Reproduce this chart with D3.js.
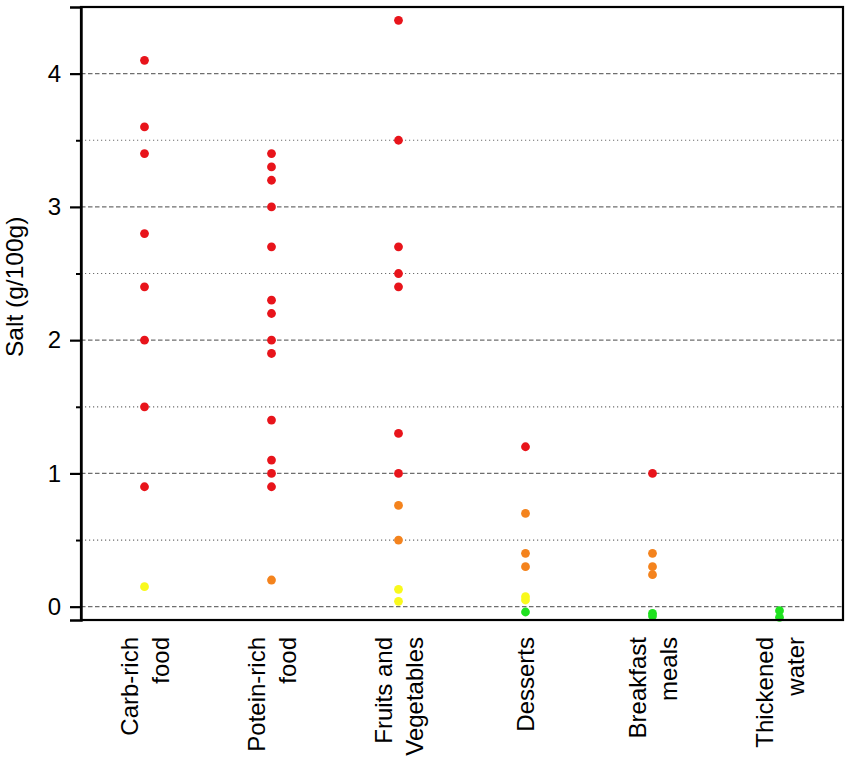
<!DOCTYPE html>
<html>
<head>
<meta charset="utf-8">
<script src="https://cdn.jsdelivr.net/npm/d3@7"></script>
<style>
  body { margin: 0; background: #fff; }
  svg { display: block; font-family: "Liberation Sans", Arial, sans-serif; }
</style>
</head>
<body>
<div id="chart"></div>
<script>
// categories, each label split in the lines it is drawn on
const categories = ['Carb-rich food', 'Potein-rich food', 'Fruits and Vegetables', 'Desserts', 'Breakfast meals', 'Thickened water'];
const labelLines = [['Carb-rich', 'food'], ['Potein-rich', 'food'], ['Fruits and', 'Vegetables'], ['Desserts'], ['Breakfast', 'meals'], ['Thickened', 'water']];

// salt values (g/100g), one array per category
const carbRich = [4.1, 3.6, 3.4, 2.8, 2.4, 2.0, 1.5, 0.9, 0.15];
const proteinRich = [3.4, 3.3, 3.2, 3.0, 2.7, 2.3, 2.2, 2.0, 1.9, 1.4, 1.1, 1.0, 0.9, 0.2];
const fruitsVeg = [4.4, 3.5, 2.7, 2.5, 2.4, 1.3, 1.0, 0.76, 0.5, 0.13, 0.04];
const desserts = [1.2, 0.7, 0.4, 0.3, 0.075, 0.05, -0.04];
const breakfast = [1.0, 0.4, 0.3, 0.24, -0.05, -0.07];
const thickenedWater = [-0.03, -0.08];

const seriesValues = [carbRich, proteinRich, fruitsVeg, desserts, breakfast, thickenedWater];

const majorTicks = [0, 1, 2, 3, 4];
const minorTicks = [0.5, 1.5, 2.5, 3.5];

// salt level colours: green, yellow, orange, red
const levelBreaks = [0, 0.18, 0.85];
const levelColors = ['#1fe21f', '#f9f91c', '#f4831d', '#e8141b'];

const width = 851, height = 764;
const margin = { top: 7, right: 8, bottom: 144, left: 81 };
const innerW = width - margin.left - margin.right;
const innerH = height - margin.top - margin.bottom;

const svg = d3.select('#chart').append('svg')
  .attr('width', width)
  .attr('height', height);

const g = svg.append('g')
  .attr('transform', `translate(${margin.left},${margin.top})`);

const x = d3.scaleBand().domain(categories).range([0, innerW]).padding(0);
const y = d3.scaleLinear().domain([-0.1, 4.5]).range([innerH, 0]);
const color = d3.scaleThreshold().domain(levelBreaks).range(levelColors);

// grid lines
g.append('g').selectAll('line')
  .data(majorTicks)
  .join('line')
  .attr('x1', 0).attr('x2', innerW)
  .attr('y1', (d) => y(d)).attr('y2', (d) => y(d))
  .attr('stroke', '#6e6e6e')
  .attr('stroke-width', 1.3)
  .attr('stroke-dasharray', '4.5,2.5');

g.append('g').selectAll('line')
  .data(minorTicks)
  .join('line')
  .attr('x1', 0).attr('x2', innerW)
  .attr('y1', (d) => y(d)).attr('y2', (d) => y(d))
  .attr('stroke', '#6e6e6e')
  .attr('stroke-width', 1.2)
  .attr('stroke-dasharray', '1.2,2.8');

// points
const points = categories.flatMap((c, i) => seriesValues[i].map((v) => ({ cat: c, value: v })));

g.append('g').selectAll('circle')
  .data(points)
  .join('circle')
  .attr('cx', (d) => x(d.cat) + x.bandwidth() / 2)
  .attr('cy', (d) => y(d.value))
  .attr('r', 4.4)
  .attr('fill', (d) => color(d.value));

// frame
g.append('rect')
  .attr('x', 0).attr('y', 0)
  .attr('width', innerW).attr('height', innerH)
  .attr('fill', 'none')
  .attr('stroke', '#000')
  .attr('stroke-width', 2.2);

// y axis, major and minor ticks
const yAxis = g.append('g')
  .call(d3.axisLeft(y).tickValues(majorTicks).tickSize(11).tickPadding(9).tickFormat(d3.format('d')));
yAxis.select('.domain').attr('stroke-width', 2.4);
yAxis.selectAll('.tick line').attr('stroke-width', 2.2);
yAxis.selectAll('.tick text')
  .attr('font-size', 24)
  .attr('font-family', '"Liberation Sans", Arial, sans-serif')
  .attr('fill', '#000');

g.append('g')
  .call(d3.axisLeft(y).tickValues(minorTicks).tickSize(5).tickFormat(''))
  .call((s) => s.select('.domain').remove())
  .selectAll('.tick line').attr('stroke-width', 2);

// y axis title
svg.append('text')
  .attr('transform', `translate(23,${margin.top + y(2.4)}) rotate(-90)`)
  .attr('text-anchor', 'middle')
  .attr('font-size', 24.5)
  .text('Salt (g/100g)');

// category labels, rotated
const lineGap = 31;
const labels = svg.append('g').selectAll('text')
  .data(categories)
  .join('text')
  .attr('transform', (d) => `translate(${margin.left + x(d) + x.bandwidth() / 2},${margin.top + innerH + 17}) rotate(-90)`)
  .attr('text-anchor', 'end')
  .attr('font-size', 24);

labels.each(function (d, i) {
  const lines = labelLines[i];
  d3.select(this).selectAll('tspan')
    .data(lines)
    .join('tspan')
    .attr('x', 0)
    .attr('y', (l, j) => -lineGap * (lines.length - 1) / 2 + lineGap * j + 8.5)
    .text((l) => l);
});
</script>
</body>
</html>
